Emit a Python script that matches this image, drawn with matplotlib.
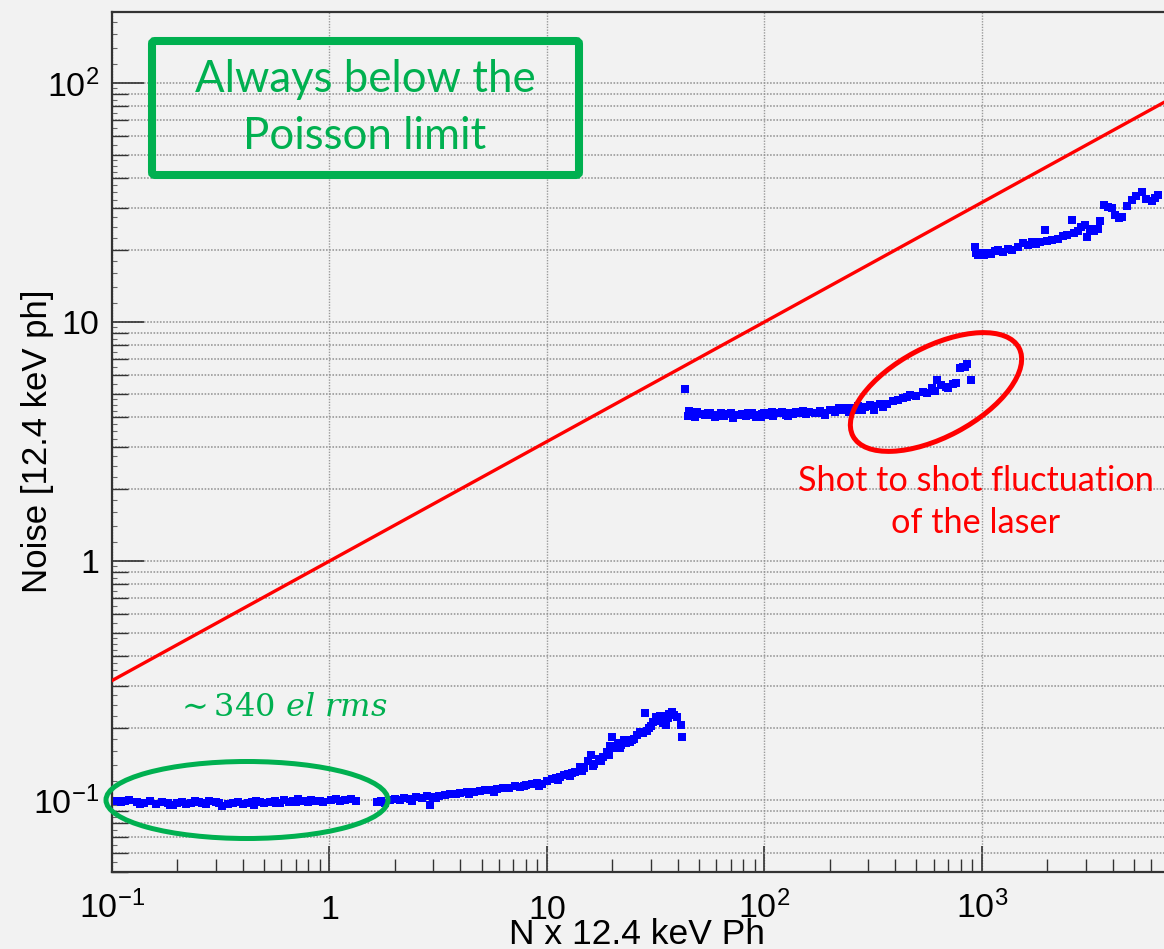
import matplotlib
matplotlib.use("Agg")
import matplotlib.pyplot as plt
from matplotlib.patches import Ellipse, FancyBboxPatch
from matplotlib.transforms import Affine2D
from matplotlib.ticker import FixedLocator, LogLocator, NullFormatter

# ---------------- data ----------------
# low-intensity segment
x_low = [0.105, 0.11, 0.115, 0.12, 0.13, 0.14, 0.15, 0.16, 0.17, 0.18, 0.19, 0.20,
         0.21, 0.22, 0.23, 0.24, 0.25, 0.26, 0.28, 0.30, 0.32, 0.34, 0.36, 0.38,
         0.40, 0.42, 0.44, 0.46, 0.48, 0.50, 0.53, 0.56, 0.59, 0.62, 0.65, 0.68,
         0.72, 0.76, 0.80, 0.85, 0.90, 0.93,
         1.02, 1.07, 1.12, 1.18, 1.25, 1.32,
         1.65, 1.72, 1.80, 1.90, 2.00, 2.10, 2.20, 2.35, 2.50, 2.65, 2.80, 2.90,
         3.00, 3.20, 3.40, 3.60, 3.80, 4.00, 4.30, 4.60, 4.90, 5.20, 5.50, 5.90,
         6.30, 6.70, 7.10, 7.50, 8.00, 8.50, 9.00, 9.50, 10.0, 10.5, 11.0, 11.5,
         12.0, 12.5, 13.0, 13.5, 14.2, 14.8, 15.4, 15.9, 16.5, 17.4, 18.1, 18.8,
         19.5, 19.8, 20.1, 20.6, 21.2, 22.0, 23.0, 24.0, 25.0, 26.0, 26.8, 28.2,
         28.7, 29.5, 30.6, 31.6, 32.5, 33.6, 34.5, 35.4, 36.3, 37.0, 37.6, 38.5,
         39.5, 41.3, 41.8,
         0.135, 0.185, 0.27, 0.31, 0.45, 0.57, 0.70, 0.82, 2.4, 3.1, 4.4, 5.7,
         7.8, 9.2, 11.2, 12.8, 14.5, 16.2, 17.8, 19.2, 21.6, 22.5, 24.5, 27.5,
         30.0, 33.0, 34.0, 36.0]
y_low = [0.099, 0.098, 0.099, 0.100, 0.098, 0.097, 0.099, 0.096, 0.098, 0.097, 0.095, 0.097,
         0.098, 0.096, 0.097, 0.099, 0.098, 0.097, 0.099, 0.098, 0.094, 0.096, 0.097, 0.098,
         0.096, 0.097, 0.098, 0.099, 0.098, 0.097, 0.098, 0.099, 0.097, 0.100, 0.098, 0.099,
         0.101, 0.099, 0.098, 0.099, 0.099, 0.098,
         0.100, 0.101, 0.099, 0.100, 0.101, 0.099,
         0.098, 0.099, 0.097, 0.100, 0.101, 0.100, 0.102, 0.101, 0.103, 0.102, 0.104, 0.095,
         0.103, 0.104, 0.105, 0.106, 0.106, 0.107, 0.108, 0.108, 0.109, 0.110, 0.110, 0.111,
         0.112, 0.112, 0.114, 0.113, 0.116, 0.117, 0.118, 0.117, 0.120, 0.122, 0.124, 0.125,
         0.127, 0.128, 0.130, 0.131, 0.138, 0.136, 0.145, 0.154, 0.142, 0.149, 0.152, 0.159,
         0.169, 0.183, 0.165, 0.168, 0.173, 0.170, 0.173, 0.175, 0.180, 0.187, 0.193, 0.231,
         0.195, 0.200, 0.212, 0.222, 0.218, 0.215, 0.224, 0.206, 0.229, 0.228, 0.234, 0.226,
         0.222, 0.206, 0.184,
         0.096, 0.095, 0.096, 0.097, 0.095, 0.097, 0.098, 0.100, 0.099, 0.102, 0.106, 0.108,
         0.115, 0.115, 0.121, 0.126, 0.132, 0.139, 0.146, 0.155, 0.165, 0.178, 0.178, 0.190,
         0.205, 0.225, 0.210, 0.220]

# mid-intensity segment
x_mid = [43.0, 44.5, 45.0, 46.0, 47.5, 49.0, 51.0, 53.0, 55.0, 57.0, 59.0, 61.0,
         63.0, 65.0, 67.0, 70.0, 73.0, 76.0, 79.0, 82.0, 85.0, 88.0, 91.0, 94.0,
         97.0, 100.0, 105.0, 110.0, 115.0, 120.0, 125.0, 130.0, 135.0, 140.0, 145.0, 150.0,
         160.0, 170.0, 180.0, 190.0, 200.0, 210.0, 220.0, 230.0, 240.0, 250.0, 260.0, 270.0,
         290.0, 305.0, 320.0, 340.0, 366.0, 390.0, 410.0, 433.0, 450.0, 467.0, 500.0, 534.0,
         560.0, 590.0, 610.0, 621.0, 650.0, 680.0, 700.0, 736.0, 760.0, 793.0, 815.0, 840.0,
         855.0, 895.0,
         44.8, 48.0, 56.0, 62.0, 72.0, 84.0, 96.0, 108.0, 128.0, 155.0, 185.0, 215.0,
         245.0, 280.0, 315.0, 350.0]
y_mid = [5.25, 4.05, 4.20, 4.15, 4.10, 4.20, 4.12, 4.08, 4.15, 4.10, 4.00, 4.10,
         4.15, 4.05, 4.12, 4.15, 4.08, 4.10, 4.12, 4.05, 4.10, 4.15, 4.00, 4.10,
         4.12, 4.15, 4.10, 4.05, 4.15, 4.20, 4.10, 4.18, 4.12, 4.20, 4.15, 4.25,
         4.20, 4.18, 4.25, 4.10, 4.30, 4.20, 4.35, 4.30, 4.38, 4.35, 4.30, 4.45,
         4.40, 4.50, 4.30, 4.55, 4.55, 4.65, 4.70, 4.80, 4.85, 4.95, 4.90, 5.10,
         5.05, 5.30, 5.15, 5.70, 5.45, 5.35, 5.30, 5.50, 5.55, 6.40, 6.50, 6.45,
         6.65, 5.70,
         4.25, 4.02, 4.18, 4.05, 3.98, 4.18, 4.02, 4.20, 4.05, 4.12, 4.15, 4.28,
         4.22, 4.30, 4.45, 4.40]

# high-intensity segment
x_high = [929, 940, 960, 990, 1020, 1067, 1100, 1150, 1186, 1250, 1318, 1380,
          1466, 1550, 1620, 1698, 1780, 1850, 1950, 2000, 2100, 2240, 2350, 2450,
          2596, 2650, 2750, 2850, 2980, 3050, 3150, 3280, 3415, 3500, 3650, 3795,
          3950, 4100, 4250, 4404, 4650, 4893, 5100, 5447, 5700, 6058, 6250, 6440]
y_high = [20.6, 19.4, 19.0, 19.5, 19.0, 19.4, 19.2, 19.8, 20.0, 19.6, 20.2, 20.0,
          20.6, 21.3, 21.0, 21.7, 21.2, 21.5, 24.3, 21.8, 22.0, 22.3, 22.8, 23.2,
          26.8, 23.6, 24.0, 25.0, 25.5, 22.6, 24.5, 24.0, 24.5, 26.5, 30.9, 30.4,
          29.9, 28.0, 27.3, 27.5, 30.5, 32.4, 33.5, 35.1, 32.8, 32.0, 33.0, 34.0]

# Poisson limit line (end points)
poisson_x = [0.1, 7000]
poisson_y = [0.316, 83.7]

x_ticks = [0.1, 1, 10, 100, 1000]
x_tick_labels = [r"$10^{-1}$", "1", "10", r"$10^{2}$", r"$10^{3}$"]
y_ticks = [0.1, 1, 10, 100]
y_tick_labels = [r"$10^{-1}$", "1", "10", r"$10^{2}$"]
y_fine_ticks = [m * 10.0 ** d for d in (-2, -1, 0, 1, 2)
                for m in (1.2, 1.4, 1.6, 1.8, 2.25, 2.5, 2.75, 3.25, 3.5, 3.75,
                          4.25, 4.5, 4.75, 5.5, 6.5, 7.5, 8.5, 9.5)]

x_label = "N x 12.4 keV Ph"
y_label = "Noise [12.4 keV ph]"
box_text = "Always below the\nPoisson limit"
noise_text = r"$\sim340\ el\ rms$"
laser_text = "Shot to shot fluctuation\nof the laser"

# ---------------- style ----------------
W, H = 1164, 949
BG = "#f2f2f2"
GREEN = "#00b050"
RED = "#ff0000"
BLUE = "#0000ff"
AX = "#333333"

plt.rcParams["font.family"] = ["Liberation Sans", "DejaVu Sans"]
plt.rcParams["mathtext.fontset"] = "custom"
plt.rcParams["mathtext.rm"] = "Liberation Sans"
plt.rcParams["mathtext.it"] = "Liberation Sans:italic"
plt.rcParams["mathtext.bf"] = "Liberation Sans:bold"

fig = plt.figure(figsize=(W / 100, H / 100), dpi=100, facecolor=BG)
ax = fig.add_axes([112 / W, 77 / H, 1 - 112 / W, (872 - 12) / H], facecolor=BG)

ax.set_xscale("log")
ax.set_yscale("log")
ax.set_xlim(0.1, 6871)
ax.set_ylim(0.05, 198)

# grid
ax.grid(True, which="major", axis="x", color="#9a9a9a", linestyle=(0, (1, 1)), lw=1.0)
ax.grid(True, which="both", axis="y", color="#949494", linestyle=(0, (1, 1)), lw=1.15)
ax.set_axisbelow(True)

# data
ax.plot(poisson_x, poisson_y, color=RED, lw=2.4, zorder=3)
for xs, ys in ((x_low, y_low), (x_mid, y_mid), (x_high, y_high)):
    ax.plot(xs, ys, linestyle="none", marker="s", ms=5.8, color=BLUE,
            markeredgewidth=0, zorder=4)

# ticks
ax.xaxis.set_major_locator(FixedLocator(x_ticks))
ax.set_xticklabels(x_tick_labels)
ax.yaxis.set_major_locator(FixedLocator(y_ticks))
ax.set_yticklabels(y_tick_labels)
ax.xaxis.set_minor_locator(LogLocator(base=10, subs=range(2, 10), numticks=20))
ax.yaxis.set_minor_locator(LogLocator(base=10, subs=range(2, 10), numticks=20))
ax.xaxis.set_minor_formatter(NullFormatter())
ax.yaxis.set_minor_formatter(NullFormatter())
ax.tick_params(axis="x", which="major", direction="in", length=19, width=1.2,
               color=AX, labelsize=24.5, pad=33.5)
ax.tick_params(axis="x", which="minor", direction="in", length=9.5, width=1.0, color=AX)
ax.tick_params(axis="y", which="major", direction="in", length=23, width=1.2,
               color=AX, labelsize=24.5, pad=9)
ax.tick_params(axis="y", which="minor", direction="in", length=11.5, width=1.0, color=AX)
for lab in ax.get_xticklabels():
    lab.set_verticalalignment("baseline")
for s in ("left", "bottom", "top"):
    ax.spines[s].set_color(AX)
    ax.spines[s].set_linewidth(1.6)
ax.spines["right"].set_visible(False)

# third-level fine ticks on the y axis
sec = ax.secondary_yaxis("left")
sec.set_yticks(y_fine_ticks)
sec.set_yticklabels([])
sec.tick_params(axis="y", which="major", direction="in", length=3.5, width=0.8, color="#666666")
sec.tick_params(axis="y", which="minor", length=0)
sec.spines["left"].set_visible(False)

# pixel transform (origin bottom-left, in output pixels)
pix = Affine2D().scale(1 / W, 1 / H) + fig.transFigure

# axis labels (the x label touches the tick labels, as in the original)
fig.text(637, H - 934, x_label, transform=pix, ha="center", va="center", fontsize=25.5)
fig.text(38, H - 441, y_label, transform=pix, ha="center", va="center",
         fontsize=25, rotation=90)

# annotations
box = FancyBboxPatch((152, H - 175), 427, 134, boxstyle="round,pad=0,rounding_size=3",
                     transform=pix, fill=False, edgecolor=GREEN, lw=5.8, zorder=6)
fig.patches.append(box)
fig.text(365, H - 108, box_text, transform=pix, ha="center", va="center",
         fontsize=31.5, color=GREEN, family="Lato", linespacing=1.5, zorder=7)

fig.patches.append(Ellipse((247, H - 800), 282, 77, transform=pix, fill=False,
                           edgecolor=GREEN, lw=3.6, zorder=6))
fig.text(281, H - 708, noise_text, transform=pix, ha="center", va="center",
         fontsize=23, color=GREEN, math_fontfamily="dejavuserif")

fig.patches.append(Ellipse((936, H - 392), 188, 90, angle=28, transform=pix,
                           fill=False, edgecolor=RED, lw=3.6, zorder=6))
fig.text(976, H - 502, laser_text, transform=pix, ha="center", va="center",
         fontsize=24.7, color=RED, family="Lato", linespacing=1.35)

fig.savefig("out.png", dpi=100, facecolor=BG)
